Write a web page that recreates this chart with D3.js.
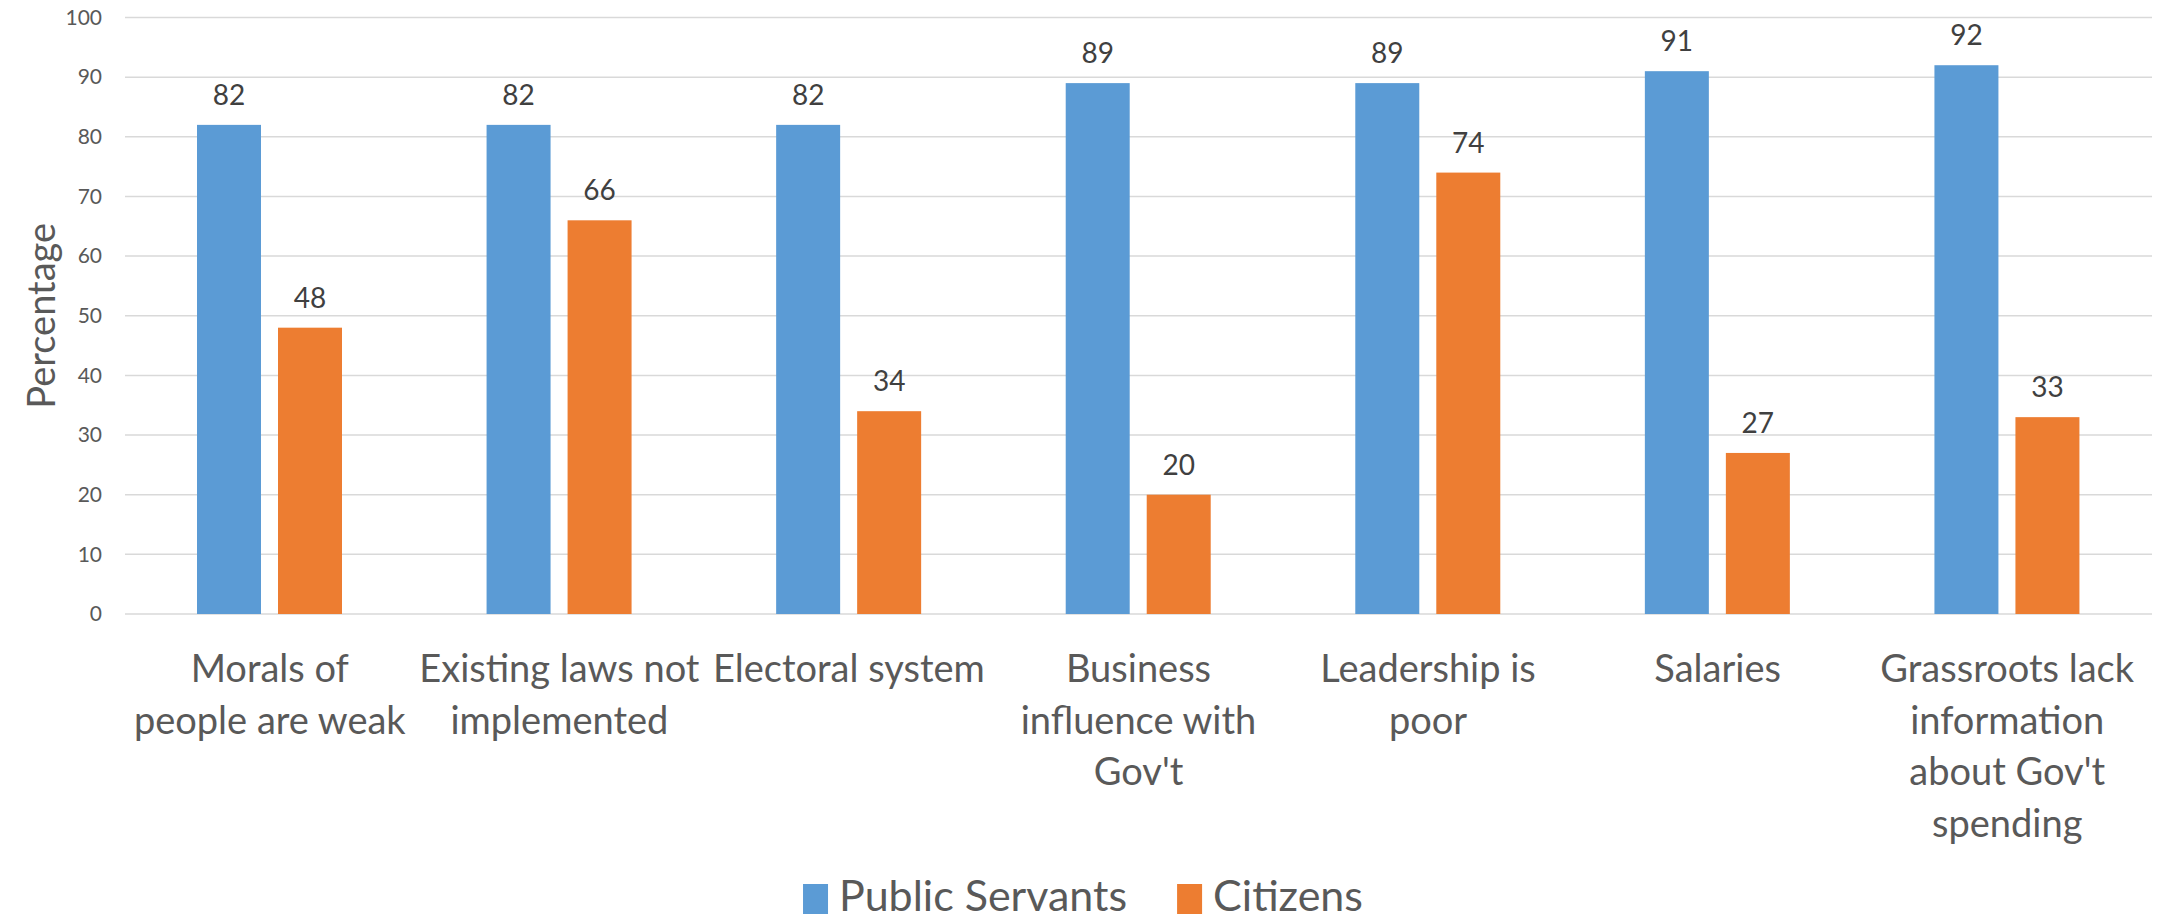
<!DOCTYPE html>
<html>
<head>
<meta charset="utf-8">
<style>
  html, body { margin: 0; padding: 0; background: #fff; }
  svg { display: block; font-family: Lato, "Open Sans", sans-serif; }
</style>
<script src="https://d3js.org/d3.v7.min.js"></script>
</head>
<body>
<svg id="chart" width="2165" height="921"></svg>
<script>
// data
var categories = [
  "Morals of people are weak",
  "Existing laws not implemented",
  "Electoral system",
  "Business influence with Gov't",
  "Leadership is poor",
  "Salaries",
  "Grassroots lack information about Gov't spending"
];
// label lines as they wrap in the original
var categoryLines = [
  ["Morals of", "people are weak"],
  ["Existing laws not", "implemented"],
  ["Electoral system"],
  ["Business", "influence with", "Gov't"],
  ["Leadership is", "poor"],
  ["Salaries"],
  ["Grassroots lack", "information", "about Gov't", "spending"]
];
var seriesNames = ["Public Servants", "Citizens"];
var publicServants = [82, 82, 82, 89, 89, 91, 92];
var citizens = [48, 66, 34, 20, 74, 27, 33];
var yTicks = [0, 10, 20, 30, 40, 50, 60, 70, 80, 90, 100];
var colors = ["#5B9BD5", "#ED7D31"];

var svg = d3.select("#chart");
var plotLeft = 125, plotRight = 2152, plotTop = 17.5, plotBottom = 614;

var x0 = d3.scaleBand().domain(categories).range([plotLeft, plotRight]).paddingInner(0).paddingOuter(0);
var x1 = d3.scaleBand().domain(seriesNames).range([72, 217]).paddingInner(0.21).paddingOuter(0);
var y = d3.scaleLinear().domain([0, 100]).range([plotBottom, plotTop]);
var z = d3.scaleOrdinal().domain(seriesNames).range(colors);

var rows = categories.map(function(c, i) {
  return {cat: c, vals: [
    {key: seriesNames[0], value: publicServants[i]},
    {key: seriesNames[1], value: citizens[i]}
  ]};
});

// gridlines
svg.append("g")
  .selectAll("line")
  .data(yTicks)
  .enter().append("line")
    .attr("x1", plotLeft).attr("x2", plotRight)
    .attr("y1", function(d) { return y(d); })
    .attr("y2", function(d) { return y(d); })
    .attr("stroke", "#d9d9d9")
    .attr("stroke-width", 1.5);

// y axis labels
var yAxis = svg.append("g")
  .attr("transform", "translate(" + plotLeft + ",0)")
  .call(d3.axisLeft(y).tickValues(yTicks).tickSize(0).tickPadding(23));
yAxis.select(".domain").remove();
yAxis.selectAll("text")
  .attr("font-family", "Lato, sans-serif")
  .attr("font-size", 21)
  .attr("fill", "#595959");

// bars
var groups = svg.append("g")
  .selectAll("g")
  .data(rows)
  .enter().append("g")
    .attr("transform", function(d) { return "translate(" + x0(d.cat) + ",0)"; });

groups.selectAll("rect")
  .data(function(d) { return d.vals; })
  .enter().append("rect")
    .attr("x", function(d) { return x1(d.key); })
    .attr("y", function(d) { return y(d.value); })
    .attr("width", x1.bandwidth())
    .attr("height", function(d) { return y(0) - y(d.value); })
    .attr("fill", function(d) { return z(d.key); });

groups.selectAll("text")
  .data(function(d) { return d.vals; })
  .enter().append("text")
    .attr("x", function(d) { return x1(d.key) + x1.bandwidth() / 2; })
    .attr("y", function(d) { return y(d.value) - 20; })
    .attr("text-anchor", "middle")
    .attr("font-size", 28)
    .attr("fill", "#404040")
    .text(function(d) { return d.value; });

// category labels
var xAxis = svg.append("g")
  .attr("transform", "translate(0," + plotBottom + ")")
  .call(d3.axisBottom(x0).tickSize(0).tickFormat(""));
xAxis.select(".domain").remove();
xAxis.selectAll(".tick text").remove();
xAxis.selectAll(".tick")
  .append("text")
    .attr("text-anchor", "middle")
    .attr("font-family", "Lato, sans-serif")
    .attr("font-size", 38)
    .attr("fill", "#595959")
    .each(function(d, i) {
      var t = d3.select(this);
      categoryLines[i].forEach(function(line, j) {
        t.append("tspan").attr("x", 0).attr("y", 68 + j * 51.5).text(line);
      });
    });

// y title
svg.append("text")
  .attr("transform", "translate(42," + (plotTop + plotBottom) / 2 + ") rotate(-90)")
  .attr("text-anchor", "middle")
  .attr("dy", "0.35em")
  .attr("font-size", 38)
  .attr("fill", "#595959")
  .text("Percentage");

// legend
var legend = svg.append("g").attr("transform", "translate(0,911)");
var items = legend.selectAll("g")
  .data(seriesNames)
  .enter().append("g");
items.append("rect")
  .attr("y", -27).attr("width", 25).attr("height", 30)
  .attr("fill", z);
items.append("text")
  .attr("x", 36)
  .attr("font-size", 43)
  .attr("fill", "#595959")
  .text(function(d) { return d; });
var widths = [];
items.each(function() { widths.push(this.getBBox().width); });
var gap = 50;
var total = d3.sum(widths) + gap * (widths.length - 1);
var start = 1083 - total / 2;
items.attr("transform", function(d, i) {
  return "translate(" + (start + d3.sum(widths.slice(0, i)) + gap * i) + ",0)";
});
</script>
</body>
</html>
